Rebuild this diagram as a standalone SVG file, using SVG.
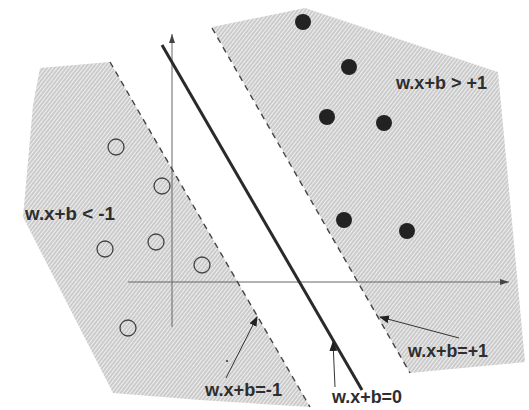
<svg xmlns="http://www.w3.org/2000/svg" width="529" height="410" viewBox="0 0 529 410">
<defs>
<pattern id="hatch" width="3" height="10" patternUnits="userSpaceOnUse" patternTransform="rotate(38)">
<rect width="3" height="10" fill="#efefef"/>
<line x1="1" y1="0" x2="1" y2="10" stroke="#a8a8a8" stroke-width="1"/>
</pattern>
<marker id="ah" markerWidth="10" markerHeight="8" refX="9" refY="4" orient="auto" markerUnits="userSpaceOnUse">
<path d="M0,0 L10,4 L0,8 z" fill="#222"/>
</marker>
<marker id="axh" markerWidth="9" markerHeight="6" refX="9" refY="3" orient="auto" markerUnits="userSpaceOnUse">
<path d="M0,0 L9,3 L0,6 z" fill="#444"/>
</marker>
</defs>
<style>
.region{fill:url(#hatch);stroke:none}
.margin{stroke:#444;stroke-width:1.4;stroke-dasharray:6 5;fill:none}
.axis{stroke:#666;stroke-width:1;fill:none}
.sep{stroke:#2a2a2a;stroke-width:3;fill:none}
.conn{stroke:#333;stroke-width:1;fill:none;marker-end:url(#ah)}
.neg{fill:none;stroke:#444;stroke-width:1.3}
.pos{fill:#222;stroke:none}
.lbl{font-family:"Liberation Sans",Arial,sans-serif;font-weight:bold;font-size:17.5px;fill:#2e2e2e}
</style>
<rect width="529" height="410" fill="#fff"/>
<g id="regions">
<polygon id="negRegion" class="region" points="40,68 110,62 310,407 200,400 113,393 23,217 33,105"/>
<polygon id="posRegion" class="region" points="212,27 305,8 498,72 510,200 525,362 410,373"/>
</g>
<g id="axes">
<line class="axis" x1="172" y1="327" x2="172" y2="34" marker-end="url(#axh)"/>
<line class="axis" x1="128" y1="282" x2="509" y2="282" marker-end="url(#axh)"/>
</g>
<g id="lines">
<line id="margin-neg" class="margin" x1="110" y1="62" x2="310" y2="407"/>
<line id="margin-pos" class="margin" x1="212" y1="28" x2="410" y2="373"/>
<line id="separator" class="sep" x1="162" y1="45" x2="362" y2="390"/>
</g>
<g id="neg-points">
<circle class="neg" cx="116" cy="147" r="8"/>
<circle class="neg" cx="162" cy="186" r="8"/>
<circle class="neg" cx="156" cy="242" r="8"/>
<circle class="neg" cx="105" cy="249" r="8"/>
<circle class="neg" cx="202" cy="265" r="8"/>
<circle class="neg" cx="128" cy="328" r="8"/>
</g>
<g id="pos-points">
<circle class="pos" cx="303" cy="22" r="8"/>
<circle class="pos" cx="349" cy="67" r="8"/>
<circle class="pos" cx="327" cy="117" r="8"/>
<circle class="pos" cx="384" cy="123" r="8"/>
<circle class="pos" cx="344" cy="220" r="8"/>
<circle class="pos" cx="407" cy="231" r="8"/>
</g>
<circle cx="227" cy="361" r="1" fill="#333"/>
<g id="connectors">
<line class="conn" x1="459" y1="338" x2="380" y2="317"/>
<line class="conn" x1="335" y1="387" x2="333" y2="342"/>
<line class="conn" x1="226" y1="378" x2="257" y2="317"/>
</g>
<g id="labels">
<text id="lbl-pos" class="lbl" x="396" y="89" textLength="91" lengthAdjust="spacingAndGlyphs">w.x+b &gt; +1</text>
<text id="lbl-neg" class="lbl" x="25" y="220" textLength="90" lengthAdjust="spacingAndGlyphs">w.x+b &lt; -1</text>
<text id="lbl-p1" class="lbl" x="408" y="357" textLength="80" lengthAdjust="spacingAndGlyphs">w.x+b=+1</text>
<text id="lbl-0" class="lbl" x="332" y="403" textLength="70" lengthAdjust="spacingAndGlyphs">w.x+b=0</text>
<text id="lbl-m1" class="lbl" x="205" y="396" textLength="77" lengthAdjust="spacingAndGlyphs">w.x+b=-1</text>
</g>
</svg>
